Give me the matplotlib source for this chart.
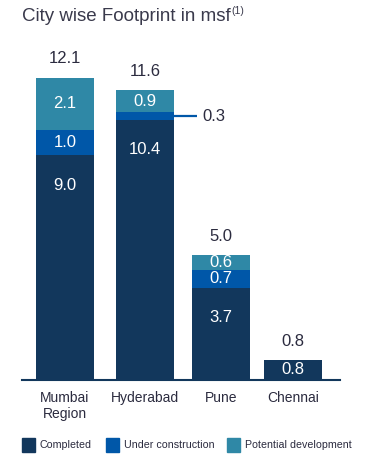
import numpy as np
import matplotlib.pyplot as plt
from matplotlib.patches import Rectangle

# data (msf)
cities = ["Mumbai\nRegion", "Hyderabad", "Pune", "Chennai"]
completed = [9.0, 10.4, 3.7, 0.8]
under_construction = [1.0, 0.3, 0.7, 0.0]
potential = [2.1, 0.9, 0.6, 0.0]
totals = [12.1, 11.6, 5.0, 0.8]
series_names = ["Completed", "Under construction", "Potential development"]

c_done = "#12375c"
c_uc = "#0057a8"
c_pot = "#2f88a6"
c_text = "#2b2b3f"

plt.rcParams["font.family"] = ["Liberation Sans", "DejaVu Sans"]

W, H = 366, 463
fig = plt.figure(figsize=(W / 100, H / 100), dpi=100)

# axes laid out in pixel units: x from 22 to 340, baseline at y=380, 25 px per msf
base_px = 380
ax = fig.add_axes([22 / W, (H - base_px) / H, (340 - 22) / W, 350 / H])
ax.set_xlim(22, 340)
ax.set_ylim(0, 14)

xpos = np.array([65, 145, 221, 293])
bw = 58

completed = np.array(completed)
under_construction = np.array(under_construction)
potential = np.array(potential)

ax.bar(xpos, completed, bw, color=c_done, zorder=2)
ax.bar(xpos, under_construction, bw, bottom=completed, color=c_uc, zorder=2)
ax.bar(xpos, potential, bw, bottom=completed + under_construction, color=c_pot, zorder=2)

lab_kw = dict(ha="center", va="center", color="white", fontsize=12, zorder=3)
for i, x in enumerate(xpos):
    # completed label near top of the segment when tall, else centered
    if completed[i] > 2:
        y = completed[i] - 1.2
    else:
        y = completed[i] / 2
    ax.text(x, y, f"{completed[i]:.1f}", **lab_kw)
    if under_construction[i] >= 0.5:
        ax.text(x, completed[i] + under_construction[i] / 2,
                f"{under_construction[i]:.1f}", **lab_kw)
    if potential[i] > 0:
        ax.text(x, completed[i] + under_construction[i] + potential[i] / 2,
                f"{potential[i]:.1f}", **lab_kw)
    ax.text(x, totals[i] + 0.75, f"{totals[i]:.1f}", ha="center", va="center",
            color=c_text, fontsize=12)

# callout for the thin Hyderabad segment
yc = completed[1] + under_construction[1] / 2
xr = xpos[1] + bw / 2
ax.plot([xr, xr + 23], [yc, yc], color=c_uc, lw=1.6, solid_capstyle="butt", zorder=3)
ax.text(xr + 28, yc, f"{under_construction[1]:.1f}", ha="left", va="center",
        color=c_text, fontsize=12)

for s in ["top", "right", "left"]:
    ax.spines[s].set_visible(False)
ax.spines["bottom"].set_color(c_done)
ax.spines["bottom"].set_linewidth(1.5)
ax.set_yticks([])
ax.set_xticks(xpos)
ax.set_xticklabels(cities, fontsize=10, color=c_text, linespacing=1.15)
ax.tick_params(axis="x", length=0, pad=8)

# title with superscript
t = fig.text(22 / W, 1 - 21 / H, "City wise Footprint in msf", fontsize=13.5,
             color="#3a3a4c", va="baseline", ha="left")
fig.canvas.draw()
bb = t.get_window_extent()
fig.text((bb.x1 + 1) / W, 1 - 14 / H, "(1)", fontsize=7.5, color="#3a3a4c",
         va="baseline", ha="left")

# legend
sq_x = [22, 106, 227]
colors = [c_done, c_uc, c_pot]
for sx, col, name in zip(sq_x, colors, series_names):
    fig.add_artist(Rectangle((sx / W, 1 - 452 / H), 13 / W, 14 / H,
                             transform=fig.transFigure, color=col))
    fig.text((sx + 18) / W, 1 - 445 / H, name, fontsize=7.7, color=c_text,
             va="center", ha="left")

fig.savefig("out.png", dpi=100)
